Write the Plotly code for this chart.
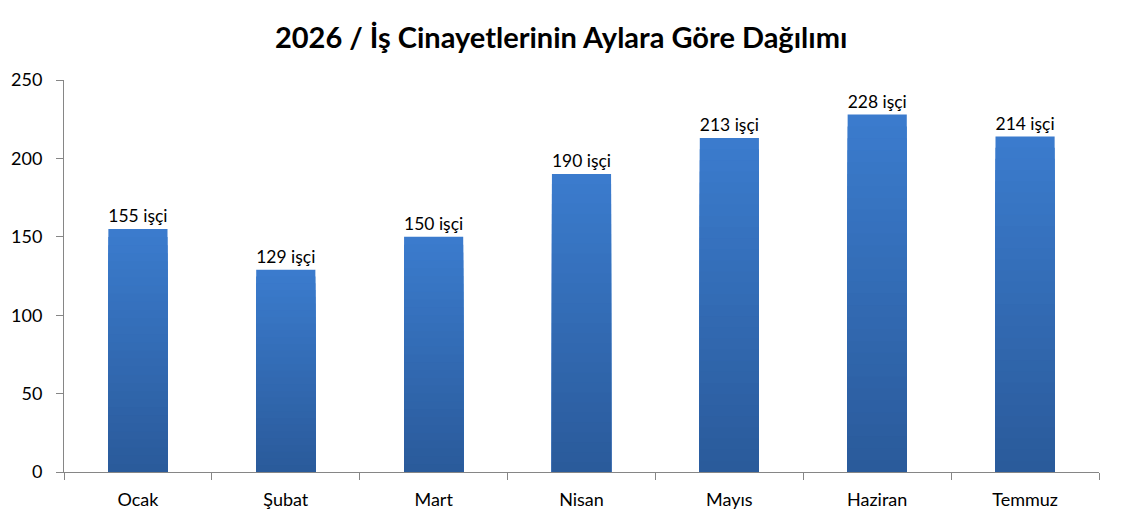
import plotly.graph_objects as go

months = ["Ocak", "Şubat", "Mart", "Nisan", "Mayıs", "Haziran", "Temmuz"]
workers = [155, 129, 150, 190, 213, 228, 214]
labels = [f"{v} işçi" for v in workers]
title = "2026 / İş Cinayetlerinin Aylara Göre Dağılımı"

TOP = (59, 124, 206)
BOT = (42, 90, 154)
N = 30

fig = go.Figure()
for k in range(N):
    frac = (N - k) / N
    t = (k + 0.5) / N
    c = tuple(round(TOP[i] + (BOT[i] - TOP[i]) * t) for i in range(3))
    fig.add_trace(go.Bar(
        x=months, y=[v * frac for v in workers],
        marker=dict(color=f"rgb{c}", line=dict(width=0)),
        text=labels if k == 0 else None,
        textposition="outside" if k == 0 else "none",
        textfont=dict(family="Lato", size=18, color="#000000"),
        cliponaxis=False, hoverinfo="skip" if k else "x+y",
        showlegend=False,
    ))

fig.update_layout(
    width=1122, height=525,
    barmode="overlay", bargap=0.6,
    paper_bgcolor="white", plot_bgcolor="white",
    margin=dict(l=56, r=31, t=72, b=61),
    title=dict(text=f"<b>{title}</b>", x=0.493, xanchor="center", y=0.943, yanchor="middle",
               font=dict(family="Lato", size=29, color="#000000"), automargin=False),
    font=dict(family="Lato", color="#000000"),
)
fig.update_yaxes(range=[0, 250], dtick=50, showgrid=False, showline=True, linecolor="#868686",
                 linewidth=1, ticks="outside", ticklen=7, tickcolor="#868686",
                 ticklabelstandoff=10, automargin=False,
                 tickfont=dict(family="Lato", size=18, color="#000000"), zeroline=False)
fig.update_xaxes(showline=True, linecolor="#868686", linewidth=1, ticks="outside",
                 tickson="boundaries", ticklen=7, tickcolor="#868686",
                 ticklabelstandoff=11, automargin=False,
                 tickfont=dict(family="Lato", size=18, color="#000000"))

fig.write_html("out.html")
